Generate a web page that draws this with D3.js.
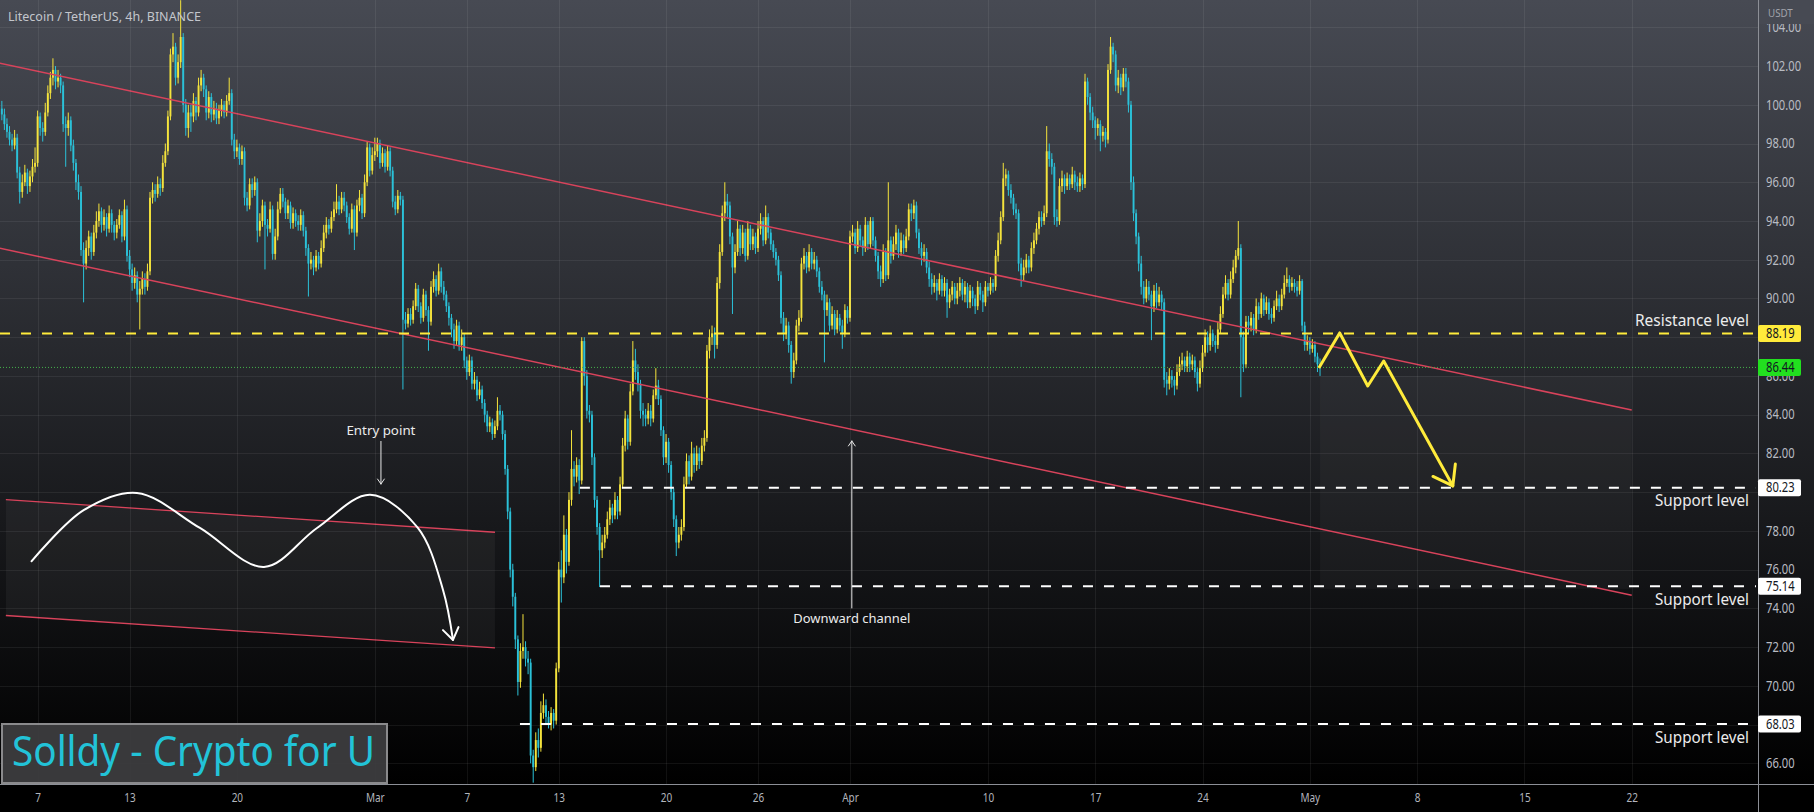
<!DOCTYPE html>
<html><head><meta charset="utf-8">
<script src="https://cdn.jsdelivr.net/npm/d3@7"></script>
<style>html,body{margin:0;padding:0;background:#000;overflow:hidden}svg{display:block}</style>
</head><body><svg id="c" width="1814" height="812"></svg>
<script>
// ---------------- DATA ----------------
const chartTitle = "Litecoin / TetherUS, 4h, BINANCE";
const currencyLabel = "USDT";
const watermarkText = "Solldy - Crypto for U";
const startTime = "2023-02-04T16:00:00Z";   // first 4h candle
const baseDate = "2023-02-07T00:00:00Z";    // day 0 for drawing coordinates
const firstOpen = 99.8;
const closes = [
99.5,99.0,
98.6,98.2,97.9,98.3,96.5,95.5,
96.0,96.5,95.8,96.3,96.8,97.0,
99.4,98.8,98.6,99.6,100.6,101.4,
101.8,101.2,101.4,101.0,99.0,98.8,
99.2,97.9,97.0,96.0,95.5,92.5,
91.8,92.6,93.2,92.4,93.4,94.0,
94.5,93.8,94.2,93.6,94.4,93.8,
93.4,93.8,94.3,93.2,94.6,92.2,
91.5,90.8,91.2,90.2,90.5,91.0,
90.6,91.4,95.2,95.6,95.4,95.9,
95.7,97.0,97.6,99.4,102.6,103.0,
101.4,102.2,103.5,100.0,98.8,99.6,
99.4,100.2,99.6,101.0,101.4,100.8,
99.6,100.4,99.5,99.8,99.3,99.7,
100.0,99.6,100.2,100.6,98.2,97.6,
97.8,97.2,97.6,95.2,94.8,95.9,
95.6,96.0,93.5,94.0,94.8,93.8,
93.6,94.6,92.3,93.2,94.6,95.4,
95.0,94.4,94.8,93.9,94.4,94.0,
93.8,94.3,93.5,92.6,91.8,92.0,
91.6,92.2,91.8,92.6,93.4,93.8,
93.6,94.2,94.6,95.0,94.6,95.2,
94.8,94.2,93.6,94.6,93.4,94.8,
95.2,94.4,96.0,97.8,96.6,97.4,
97.6,98.0,97.0,97.5,96.8,97.6,
96.6,95.0,94.6,95.3,95.1,88.9,
88.7,89.2,88.9,89.6,90.5,89.6,
89.0,90.2,89.4,88.8,90.6,91.0,
90.4,91.4,90.6,90.2,89.6,89.0,
88.4,87.8,88.6,87.6,88.0,86.8,
86.2,86.8,85.6,85.8,85.0,85.3,
84.6,84.0,83.4,83.6,83.0,83.4,
84.2,84.0,83.0,81.2,79.0,76.0,
74.6,72.4,70.2,71.8,72.0,71.4,
71.2,66.4,65.8,67.2,66.8,68.6,
69.0,68.4,68.0,68.6,68.2,70.9,
76.0,75.6,77.8,76.4,79.6,81.2,
80.8,81.4,80.6,87.8,86.0,84.2,
84.0,81.8,79.6,78.2,77.0,77.4,
77.8,78.6,79.2,78.8,79.6,79.0,
80.4,82.4,83.8,82.6,85.2,86.8,
86.2,85.6,84.2,84.0,83.8,84.2,
83.8,85.0,85.5,84.8,83.2,81.8,
82.6,81.4,80.0,78.6,77.4,77.8,
78.2,80.4,81.6,80.8,82.0,81.4,
82.0,81.6,82.4,82.8,87.3,88.0,
88.2,87.6,90.8,92.4,94.4,95.0,
94.8,93.2,91.6,92.4,93.6,92.6,
93.4,92.2,93.6,92.8,93.2,92.6,
93.6,94.0,93.0,94.2,93.4,92.8,
92.4,92.0,91.2,89.0,88.2,88.6,
87.6,86.2,86.8,88.6,89.0,91.8,
92.2,91.6,92.4,91.8,92.0,91.4,
90.6,90.2,89.4,89.8,88.6,89.2,
88.4,89.0,88.6,88.2,89.4,89.0,
93.2,93.4,92.6,93.6,93.0,92.6,
93.8,92.8,94.0,93.0,92.2,91.4,
91.0,92.4,91.2,93.0,92.2,92.8,
93.4,92.4,93.0,92.6,93.2,94.6,
94.4,94.8,93.4,92.6,92.2,92.4,
91.6,91.0,90.6,90.8,90.4,91.0,
90.4,90.8,89.8,90.2,90.6,90.0,
90.4,90.8,90.2,90.6,89.8,90.4,
90.0,89.6,90.6,90.2,89.8,90.6,
90.4,90.8,90.6,92.2,93.0,94.2,
96.2,96.4,95.6,95.2,94.6,94.4,
91.8,91.2,91.6,92.0,91.6,92.6,
93.0,93.6,94.2,94.0,94.4,97.6,
97.2,96.8,94.2,94.0,95.8,96.2,
95.8,96.2,95.9,96.4,96.0,95.8,
96.2,95.9,101.2,100.4,99.6,99.2,
98.8,99.0,98.4,98.6,98.2,101.8,
103.0,102.6,101.0,101.4,100.9,101.6,
101.2,100.0,96.0,94.4,93.2,91.8,
90.6,90.0,90.6,90.2,89.6,90.4,
89.8,90.2,89.8,85.8,85.6,86.0,
85.8,85.5,86.2,86.6,86.8,86.5,
87.0,86.6,86.8,86.2,85.6,86.4,
87.2,88.0,87.6,88.2,87.8,87.6,
88.4,89.2,90.2,90.8,90.2,91.0,
91.6,92.2,92.6,88.0,86.6,88.8,
88.6,89.0,88.4,89.6,89.2,90.0,
89.4,89.8,89.2,89.0,89.6,90.0,
89.6,90.2,90.8,91.0,90.6,90.8,
90.6,90.4,90.9,88.6,87.6,87.8,
87.4,87.6,87.0,86.6,86.44];
const highs = [
100.2,99.8,
99.3,98.9,98.5,98.7,98.5,96.8,
96.4,96.9,96.7,96.6,97.2,97.8,
99.7,99.6,99.1,100.1,101.0,101.7,
102.4,102.0,101.8,101.6,101.2,99.4,
99.6,99.4,98.2,97.2,96.4,95.8,
92.9,93.0,93.5,93.4,93.8,94.5,
94.9,94.7,94.6,94.4,94.8,94.6,
94.0,94.1,94.6,94.5,95.1,94.8,
92.5,91.8,91.6,91.4,90.9,91.4,
91.3,91.8,95.5,96.0,95.9,96.3,
96.2,97.4,98.0,99.7,102.9,103.7,
103.2,102.6,105.4,103.7,100.3,100.0,
100.0,100.6,100.4,101.4,101.8,101.6,
101.0,100.7,100.6,100.2,100.1,100.0,
100.3,100.2,100.5,101.4,100.8,98.5,
98.2,98.0,97.9,97.8,95.5,96.2,
96.2,96.3,96.2,94.4,95.1,95.0,
94.1,95.0,94.8,93.6,95.0,95.7,
95.7,95.2,95.1,95.0,94.7,94.6,
94.3,94.6,94.5,93.7,92.8,92.4,
92.2,92.5,92.4,93.0,93.8,94.2,
94.1,94.5,95.0,95.9,95.3,95.5,
95.5,95.0,94.4,94.9,94.8,95.1,
95.6,95.4,96.4,98.1,98.0,97.8,
98.3,98.3,98.2,97.8,97.7,97.9,
97.8,96.8,95.3,95.6,95.5,95.3,
89.3,89.5,89.5,89.9,90.8,90.7,
89.8,90.5,90.4,89.6,90.9,91.4,
91.2,91.8,91.6,90.9,90.4,89.8,
89.2,88.7,88.9,88.8,88.4,88.2,
87.0,87.1,87.0,86.2,86.0,85.7,
85.5,84.8,84.2,83.9,83.8,83.7,
84.9,84.5,84.2,83.2,81.4,79.2,
76.3,74.8,72.6,72.2,73.7,72.3,
71.8,71.4,66.7,67.6,67.8,69.2,
69.6,69.3,68.7,68.9,68.8,71.2,
76.4,77.0,78.8,78.1,80.0,83.2,
81.6,81.8,81.7,88.0,88.0,86.3,
84.5,84.2,82.0,79.8,78.4,77.8,
78.2,79.0,79.6,79.4,80.0,79.8,
80.8,82.8,84.2,84.0,85.6,87.8,
87.4,86.6,85.8,84.6,84.3,84.6,
84.5,85.3,86.4,85.8,85.0,83.4,
83.0,82.8,81.6,80.2,78.8,78.2,
78.6,80.8,82.0,81.9,82.6,82.3,
82.4,82.3,82.8,83.2,87.6,88.4,
88.6,88.5,91.1,92.8,94.8,96.0,
95.4,95.0,93.4,92.8,94.0,93.8,
93.8,93.6,94.0,93.8,93.6,93.4,
94.0,94.4,94.2,94.8,94.4,93.6,
93.0,92.6,92.2,91.4,89.3,89.0,
88.8,87.8,87.2,88.9,89.4,92.1,
92.6,92.4,92.8,92.6,92.4,92.2,
91.6,90.9,90.4,90.2,90.0,89.6,
89.4,89.4,89.2,88.9,89.7,89.6,
93.5,93.8,93.6,94.0,93.8,93.2,
94.2,94.0,94.2,94.2,93.2,92.4,
91.7,92.8,92.6,96.0,93.2,93.2,
93.8,93.6,93.4,93.3,93.6,94.9,
94.9,95.1,95.0,93.6,92.9,92.8,
92.6,91.9,91.3,91.2,91.0,91.3,
91.2,91.1,91.0,90.5,90.9,90.8,
90.8,91.1,91.0,90.9,90.8,90.7,
90.6,90.2,90.9,90.8,90.4,90.9,
90.8,91.1,91.0,92.5,93.4,94.5,
97.0,96.7,96.6,95.9,95.4,94.9,
94.6,92.1,92.0,92.3,92.2,92.9,
93.4,93.9,94.5,94.5,94.8,98.9,
98.0,97.5,97.0,94.6,96.2,96.6,
96.4,96.5,96.4,96.8,96.6,96.3,
96.5,96.4,101.6,101.4,100.6,99.9,
99.4,99.3,99.2,98.9,98.8,102.1,
103.5,103.2,102.8,101.8,101.6,101.9,
101.9,101.4,100.2,96.3,94.6,93.4,
92.2,90.9,91.0,90.9,90.4,90.7,
90.8,90.6,90.4,90.0,86.2,86.4,
86.3,86.0,86.6,87.0,87.2,87.0,
87.3,87.2,87.1,87.0,86.4,86.8,
87.6,88.4,88.3,88.6,88.4,88.1,
88.8,89.6,90.6,91.2,91.0,91.4,
92.0,92.5,94.0,92.8,88.3,89.1,
89.1,89.3,89.2,90.0,89.8,90.3,
90.2,90.1,90.0,89.5,89.9,90.4,
90.2,90.5,91.2,91.6,91.2,91.1,
91.0,90.9,91.2,91.0,88.8,88.1,
88.0,87.9,87.8,87.2,86.9];
const lows = [
99.2,98.7,
98.3,97.9,97.6,97.7,96.2,94.9,
95.2,95.8,95.4,95.5,96.0,96.5,
96.8,98.4,98.1,98.4,99.4,100.3,
101.0,100.8,100.9,100.6,98.6,96.8,
98.4,97.6,96.6,95.6,95.1,92.2,
89.8,91.5,92.2,92.0,92.2,93.1,
93.7,93.4,93.5,93.2,93.4,93.4,
93.0,93.1,93.6,92.9,93.0,91.9,
91.1,90.4,90.5,89.8,88.4,90.2,
90.2,90.4,91.2,94.9,95.0,95.2,
95.3,95.5,96.8,97.4,99.2,102.2,
101.0,101.1,101.9,99.6,98.4,98.3,
98.6,99.1,99.2,99.4,100.7,100.4,
99.2,99.3,99.1,99.2,99.0,99.0,
99.4,99.3,99.4,100.0,97.9,97.2,
97.3,96.9,96.9,94.8,94.5,94.6,
95.2,95.3,92.9,93.2,93.7,91.5,
93.2,93.4,92.0,92.0,93.0,94.4,
94.7,94.1,94.1,93.6,93.6,93.7,
93.5,93.5,93.2,92.2,90.1,91.5,
91.2,91.4,91.5,91.6,92.4,93.1,
93.3,93.4,94.0,94.4,94.3,94.4,
94.5,93.9,93.3,93.4,92.5,93.2,
94.5,94.1,94.2,95.8,96.3,96.4,
97.1,97.3,96.7,96.8,96.5,96.6,
96.3,94.7,94.3,94.4,94.8,85.3,
88.4,88.5,88.6,88.7,89.4,89.3,
88.7,88.8,89.1,87.3,88.6,90.3,
90.1,90.2,90.3,89.9,89.3,88.6,
88.0,87.4,87.6,87.3,87.3,86.4,
85.8,86.0,85.3,85.3,84.7,84.8,
84.3,83.6,83.1,83.1,82.7,82.8,
83.2,83.7,82.7,80.9,78.6,75.6,
74.1,71.9,69.5,69.9,71.4,71.0,
70.6,66.0,65.0,65.6,66.3,66.6,
68.3,68.0,67.8,67.7,67.8,68.0,
70.7,74.3,75.3,75.8,76.2,79.3,
80.3,80.5,79.9,80.4,85.5,83.8,
83.6,81.4,79.2,77.8,75.1,76.6,
77.1,77.6,78.3,78.4,78.6,78.6,
78.8,80.2,82.1,82.2,82.4,85.0,
85.8,85.2,83.8,83.4,83.4,83.5,
83.4,83.6,84.8,84.5,82.9,81.4,
81.5,81.0,79.6,78.2,76.7,77.1,
77.5,78.0,80.2,80.4,80.6,81.0,
81.1,81.2,81.4,82.1,82.6,86.9,
87.6,86.9,87.4,90.5,92.2,94.0,
94.2,92.8,89.2,91.3,92.2,92.2,
92.3,91.9,92.0,92.5,92.5,92.3,
92.4,93.3,92.7,92.8,93.1,92.5,
92.1,91.7,90.9,88.7,87.8,87.9,
87.2,85.6,85.9,86.6,88.3,88.8,
91.5,91.3,91.4,91.5,91.5,91.1,
90.3,89.9,86.7,89.1,88.3,88.4,
88.1,88.2,88.3,87.4,88.0,88.7,
88.8,92.9,92.3,92.4,92.7,92.2,
92.4,92.5,92.6,92.7,91.9,91.0,
90.6,90.8,90.9,91.0,91.8,92.0,
92.5,92.1,92.2,92.3,92.4,93.0,
94.0,94.1,93.1,92.3,91.7,91.9,
91.3,90.6,90.2,90.3,89.9,90.2,
90.1,90.1,89.0,89.5,89.9,89.7,
89.7,90.1,89.9,89.8,89.5,89.5,
89.6,89.2,89.4,89.9,89.3,89.6,
90.1,90.2,90.3,90.4,91.9,92.8,
94.0,95.8,95.3,94.9,94.3,94.1,
91.4,90.6,90.9,91.3,91.3,91.4,
92.3,92.8,93.3,93.7,93.8,94.2,
96.8,96.4,93.8,93.7,93.8,95.5,
95.4,95.6,95.6,95.7,95.6,95.5,
95.5,95.6,95.7,100.0,99.2,98.8,
98.2,98.4,97.6,98.1,97.8,98.0,
101.6,102.2,100.7,100.6,100.5,100.7,
100.9,99.6,95.6,94.0,92.8,91.4,
90.2,89.7,89.8,89.9,87.85,89.3,
89.5,89.6,89.4,85.4,85.0,85.3,
85.4,85.0,85.3,86.0,86.3,86.2,
86.2,86.2,86.3,85.9,85.2,85.4,
86.2,87.0,87.2,87.3,87.5,87.2,
87.4,88.2,89.0,90.0,89.9,90.0,
90.8,91.3,92.0,84.9,86.2,86.4,
88.2,88.3,88.1,88.2,88.9,89.0,
89.1,89.2,88.9,88.7,88.8,89.4,
89.3,89.4,90.0,90.6,90.3,90.4,
90.3,90.1,90.2,88.3,87.3,87.3,
87.1,87.2,86.7,86.2,86.0];

const xTickDates = ["2023-02-07","2023-02-13","2023-02-20","2023-03-01","2023-03-07","2023-03-13","2023-03-20","2023-03-26","2023-04-01","2023-04-10","2023-04-17","2023-04-24","2023-05-01","2023-05-08","2023-05-15","2023-05-22"];
const xTickLabels = ["7","13","20","Mar","7","13","20","26","Apr","10","17","24","May","8","15","22"];
const yTicks = [66,68,70,72,74,76,78,80,82,84,86,88,90,92,94,96,98,100,102,104];

const lastPrice = 86.44;
const resistanceLevel = 88.19;
const resistanceText = "Resistance level";
const supportLevels = [80.23, 75.14, 68.03];
const supportStartDay = [35.38, 36.69, 31.47];   // day (from baseDate) where each support line starts
const supportText = "Support level";

// drawings, in [day since baseDate, price]
const upperChannel = [[-2.46, 102.14], [104, 84.24]];
const lowerChannel = [[-2.46, 92.59], [104, 74.68]];
const insetUpper = [[-2.07, 79.61], [29.84, 77.93]];
const insetLower = [[-2.07, 73.63], [29.84, 71.96]];
const sketchCurve = [[-0.43,76.40],[3.03,79.08],[6.48,79.96],[10.59,78.15],[14.77,76.14],[18.23,78.15],[21.69,79.86],[24.81,78.15],[26.45,74.95],[27.1,72.37]];
const entryLabel = {text: "Entry point", at: [22.4, 83.2], arrow: [[22.4, 82.64], [22.4, 80.42]]};
const channelLabel = {text: "Downward channel", at: [53.12, 73.5], arrow: [[53.12, 74.0], [53.12, 82.64]]};
const projection = [[83.59,86.41],[84.95,88.22],[86.78,85.48],[87.82,86.77],[92.33,80.32]];
const targetZone = [[83.67, 86.0], [104, 75.0]];

// ---------------- CHART ----------------
const W = 1814, H = 812, PR = 1758, PB = 784;
const svg = d3.select("#c");
const FONT = "'Noto Sans', 'DejaVu Sans', sans-serif";
const DAY = 86400000;
const t0 = new Date(startTime).getTime();
const b0 = new Date(baseDate).getTime();
const dd = d => new Date(b0 + d * DAY);

const x = d3.scaleUtc().domain([new Date("2023-02-07T00:00:00Z"), new Date("2023-05-22T00:00:00Z")]).range([37.6, 1631.7]);
const y = d3.scaleLinear().domain([66, 104]).range([763.3, 27.3]);
const px = p => [x(dd(p[0])), y(p[1])];

const defs = svg.append("defs");
const g1 = defs.append("linearGradient").attr("id", "bg").attr("x1", 0).attr("y1", 0).attr("x2", 0).attr("y2", 1);
g1.append("stop").attr("offset", "0%").attr("stop-color", "#474a53");
g1.append("stop").attr("offset", "100%").attr("stop-color", "#000000");
defs.append("clipPath").attr("id", "plot").append("rect").attr("x", 0).attr("y", 0).attr("width", PR).attr("height", PB);

svg.append("rect").attr("width", W).attr("height", H).attr("fill", "#000");
svg.append("rect").attr("width", W).attr("height", PB).attr("fill", "url(#bg)");

const plot = svg.append("g").attr("clip-path", "url(#plot)");

// grid
plot.append("g").selectAll("line").data(yTicks).join("line")
  .attr("x1", 0).attr("x2", PR).attr("y1", d => Math.round(y(d)) + 0.5).attr("y2", d => Math.round(y(d)) + 0.5)
  .attr("stroke", "rgba(255,255,255,0.065)");
const xDates = xTickDates.map(s => new Date(s + "T00:00:00Z"));
svg.append("g").selectAll("line").data(xDates).join("line")
  .attr("y1", 0).attr("y2", PB).attr("x1", d => Math.round(x(d)) + 0.5).attr("x2", d => Math.round(x(d)) + 0.5)
  .attr("stroke", "rgba(255,255,255,0.065)");

// shaded areas
const insetPoly = [...insetUpper.map(px), ...insetLower.slice().reverse().map(px)];
plot.append("polygon").attr("points", insetPoly.map(p => p.join(",")).join(" ")).attr("fill", "rgba(255,255,255,0.045)");
const tz0 = px(targetZone[0]), tz1 = px(targetZone[1]);
plot.append("rect").attr("x", tz0[0]).attr("y", tz0[1]).attr("width", tz1[0] - tz0[0]).attr("height", tz1[1] - tz0[1]).attr("fill", "rgba(255,255,255,0.03)");

// candles
const UP = "#f4e33c", DN = "#2bc1d8";
const candles = closes.map((c, i) => {
  const o = i ? closes[i - 1] : firstOpen;
  return {t: new Date(t0 + i * 4 * 3600000), o, c, h: Math.max(highs[i], o, c), l: Math.min(lows[i], o, c)};
});
const cg = plot.append("g");
cg.selectAll("rect.w").data(candles).join("rect").attr("class", "w")
  .attr("x", d => x(d.t) - 0.5).attr("width", 1)
  .attr("y", d => y(d.h)).attr("height", d => Math.max(1, y(d.l) - y(d.h)))
  .attr("fill", d => d.c >= d.o ? UP : DN);
cg.selectAll("rect.b").data(candles).join("rect").attr("class", "b")
  .attr("x", d => x(d.t) - 0.95).attr("width", 1.9)
  .attr("y", d => y(Math.max(d.o, d.c))).attr("height", d => Math.max(1, Math.abs(y(d.o) - y(d.c))))
  .attr("fill", d => d.c >= d.o ? UP : DN);

// channel lines
const RED = "#d8435b";
const line = d3.line().x(p => px(p)[0]).y(p => px(p)[1]);
[upperChannel, lowerChannel].forEach(l => plot.append("path").attr("d", line(l)).attr("stroke", RED).attr("stroke-width", 1.5).attr("fill", "none"));
[insetUpper, insetLower].forEach(l => plot.append("path").attr("d", line(l)).attr("stroke", RED).attr("stroke-width", 1.3).attr("fill", "none"));

// horizontal levels
const xEnd = 1756;
plot.append("line").attr("x1", 0).attr("x2", PR).attr("y1", y(lastPrice)).attr("y2", y(lastPrice))
  .attr("stroke", "#45b34a").attr("stroke-width", 1).attr("stroke-dasharray", "1,2");
plot.append("line").attr("x1", 0).attr("x2", xEnd).attr("y1", y(resistanceLevel)).attr("y2", y(resistanceLevel))
  .attr("stroke", "#ffeb3b").attr("stroke-width", 2).attr("stroke-dasharray", "10,11");
supportLevels.forEach((v, i) => {
  plot.append("line").attr("x1", x(dd(supportStartDay[i]))).attr("x2", xEnd).attr("y1", y(v)).attr("y2", y(v))
    .attr("stroke", "#ffffff").attr("stroke-width", 2).attr("stroke-dasharray", "10,11");
});

// arrow helper
function arrowHead(g, tip, from, len, ang, color, sw) {
  const a = Math.atan2(from[1] - tip[1], from[0] - tip[0]);
  [ang, -ang].forEach(s => {
    g.append("line").attr("x1", tip[0]).attr("y1", tip[1])
      .attr("x2", tip[0] + len * Math.cos(a + s)).attr("y2", tip[1] + len * Math.sin(a + s))
      .attr("stroke", color).attr("stroke-width", sw).attr("stroke-linecap", "round");
  });
}

// sketch curve (inset)
const curveLine = d3.line().x(p => px(p)[0]).y(p => px(p)[1]).curve(d3.curveCatmullRom.alpha(0.5));
plot.append("path").attr("d", curveLine(sketchCurve)).attr("stroke", "#ffffff").attr("stroke-width", 2).attr("fill", "none");
arrowHead(plot, px(sketchCurve[sketchCurve.length - 1]), px(sketchCurve[sketchCurve.length - 2]), 14, 0.6, "#fff", 2);

// labelled arrows
[entryLabel, channelLabel].forEach(lb => {
  const a0 = px(lb.arrow[0]), a1 = px(lb.arrow[1]);
  plot.append("line").attr("x1", a0[0]).attr("y1", a0[1]).attr("x2", a1[0]).attr("y2", a1[1]).attr("stroke", "#e8e8e8").attr("stroke-width", 1);
  arrowHead(plot, a1, a0, 6, 0.6, "#e8e8e8", 1);
});

// projection zigzag
plot.append("path").attr("d", line(projection)).attr("stroke", "#ffeb3b").attr("stroke-width", 3).attr("fill", "none").attr("stroke-linejoin", "round");
arrowHead(plot, px(projection[projection.length - 1]), px(projection[projection.length - 2]), 22, 0.62, "#ffeb3b", 3);

// text helpers
function squish(sel, f) { sel.each(function () { const L = this.getComputedTextLength(); d3.select(this).attr("textLength", L * f).attr("lengthAdjust", "spacingAndGlyphs"); }); }
function fit(sel, w) { sel.attr("textLength", w).attr("lengthAdjust", "spacingAndGlyphs"); }

// annotation texts
const tl = svg.append("g").attr("font-family", FONT).attr("fill", "#ececec");
[[entryLabel, 69], [channelLabel, 117]].forEach(([lb, w]) => {
  const p = px(lb.at);
  fit(tl.append("text").attr("x", p[0]).attr("y", p[1]).attr("dy", "0.35em").attr("text-anchor", "middle").attr("font-size", 13).text(lb.text), w);
});
fit(tl.append("text").attr("x", 1749).attr("y", y(resistanceLevel) - 7.5).attr("text-anchor", "end").attr("font-size", 16).text(resistanceText), 114);
supportLevels.forEach(v => {
  fit(tl.append("text").attr("x", 1749).attr("y", y(v) + 18.8).attr("text-anchor", "end").attr("font-size", 16).text(supportText), 94);
});

// title
fit(svg.append("text").attr("x", 8).attr("y", 21).attr("font-family", FONT).attr("font-size", 13).attr("fill", "#c3c6cc").text(chartTitle), 193);

// watermark
svg.append("rect").attr("x", 2).attr("y", 724).attr("width", 385).attr("height", 59).attr("fill", "rgba(62,62,64,0.92)").attr("stroke", "#8a8a8c").attr("stroke-width", 2);
fit(svg.append("text").attr("x", 12).attr("y", 766).attr("font-family", FONT).attr("font-size", 41).attr("fill", "#22c3d8").text(watermarkText), 363);

// axes lines
svg.append("line").attr("x1", PR + 0.5).attr("x2", PR + 0.5).attr("y1", 0).attr("y2", H).attr("stroke", "#8c8f96");
svg.append("line").attr("x1", 0).attr("x2", W).attr("y1", PB + 0.5).attr("y2", PB + 0.5).attr("stroke", "#8c8f96");

// price boxes (levels shown on the axis)
const boxes = [[resistanceLevel, "#ffeb3b"], [lastPrice, "#22e01f"], ...supportLevels.map(v => [v, "#ffffff"])];

// y axis: tick labels that sit fully under a price box are hidden, as on the reference
const visibleYTicks = yTicks.filter(t => !boxes.some(([v]) => Math.abs(y(t) - y(v)) < 8));
const ya = svg.append("g").attr("transform", `translate(${PR},0)`)
  .call(d3.axisRight(y).tickValues(visibleYTicks).tickFormat(d3.format(".2f")).tickSize(0).tickPadding(8));
ya.select(".domain").remove();
ya.selectAll("text").attr("font-family", FONT).attr("font-size", 13.5).attr("fill", "#b9bcc3");
squish(ya.selectAll("text"), 0.83);

// x axis
const xa = svg.append("g").attr("transform", `translate(0,${PB})`)
  .call(d3.axisBottom(x).tickValues(xDates).tickFormat((d, i) => xTickLabels[i]).tickSize(0).tickPadding(9));
xa.select(".domain").remove();
xa.selectAll("text").attr("font-family", FONT).attr("font-size", 13).attr("fill", "#b2b5bd");
squish(xa.selectAll("text"), 0.77);

// currency label
svg.append("rect").attr("x", PR + 1).attr("y", 0).attr("width", W - PR - 1).attr("height", 24).attr("fill", "#474a53");
squish(svg.append("text").attr("x", 1768).attr("y", 17).attr("font-family", FONT).attr("font-size", 11.5).attr("fill", "#a0a3aa").text(currencyLabel), 0.85);

boxes.forEach(([v, col]) => {
  svg.append("rect").attr("x", PR).attr("y", y(v) - 8.5).attr("width", 43).attr("height", 17).attr("rx", 2).attr("fill", col);
  squish(svg.append("text").attr("x", 1766).attr("y", y(v)).attr("dy", "0.35em").attr("font-family", FONT).attr("font-size", 13.5).attr("fill", "#131722").text(d3.format(".2f")(v)), 0.83);
});
</script>
</body></html>
